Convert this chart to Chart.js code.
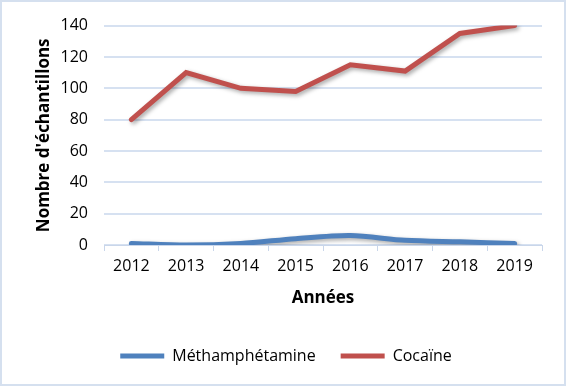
<!DOCTYPE html>
<html>
<head>
<meta charset="utf-8">
<script src="https://cdn.jsdelivr.net/npm/chart.js@4.4.0/dist/chart.umd.min.js"></script>
<style>
  html, body { margin: 0; padding: 0; background: #fff; }
  #wrap { width: 566px; height: 386px; position: relative; }
</style>
</head>
<body>
<div id="wrap"><canvas id="chart" width="566" height="386"></canvas></div>
<script>
const years = ["2012", "2013", "2014", "2015", "2016", "2017", "2018", "2019"];
const metha = [1, 0, 1, 4, 6, 3, 2, 1];
const cocaine = [80, 110, 100, 98, 115, 111, 135, 140];
const yTicks = [0, 20, 40, 60, 80, 100, 120, 140];

const font = "'Open Sans', 'Noto Sans', sans-serif";

// outer frame + soft shadow under the lines, like the Excel original
const framePlugin = {
    id: "frame",
    beforeDraw(chart) {
        const ctx = chart.ctx;
        ctx.save();
        ctx.fillStyle = "#fff";
        ctx.fillRect(0, 0, chart.width, chart.height);
        ctx.strokeStyle = "#d5e0ef";
        ctx.lineWidth = 2;
        ctx.strokeRect(1, 1, chart.width - 2, chart.height - 2);
        ctx.restore();
    },
    beforeDatasetDraw(chart) {
        const ctx = chart.ctx;
        ctx.save();
        ctx.shadowColor = "rgba(0,0,0,0.35)";
        ctx.shadowBlur = 4;
        ctx.shadowOffsetX = 2;
        ctx.shadowOffsetY = 2;
    },
    afterDatasetDraw(chart) {
        chart.ctx.restore();
    }
};

new Chart(document.getElementById("chart"), {
    type: "line",
    data: {
        labels: years,
        datasets: [{
            label: "Méthamphétamine",
            data: metha,
            fill: false,
            borderColor: "#4f81bd",
            backgroundColor: "#4f81bd",
            borderWidth: 5,
            pointRadius: 0,
            borderCapStyle: "round",
            tension: 0.3
        }, {
            label: "Cocaïne",
            data: cocaine,
            fill: false,
            borderColor: "#c0504d",
            backgroundColor: "#c0504d",
            borderWidth: 5,
            pointRadius: 0,
            borderCapStyle: "round",
            tension: 0
        }]
    },
    plugins: [framePlugin],
    options: {
        responsive: false,
        animation: false,
        layout: { padding: { left: 30, right: 24, top: 14, bottom: 12 } },
        plugins: {
            tooltip: { enabled: false },
            legend: {
                position: "bottom",
                labels: {
                    usePointStyle: true,
                    pointStyle: "line",
                    pointStyleWidth: 44,
                    boxHeight: 5,
                    padding: 25,
                    color: "#000",
                    font: { family: font, size: 16 }
                }
            }
        },
        scales: {
            x: {
                offset: true,
                grid: {
                    offset: true,
                    drawOnChartArea: false,
                    drawTicks: true,
                    tickLength: 6,
                    color: "#c9d6ea"
                },
                border: { display: true, color: "#c9d6ea" },
                ticks: { color: "#000", padding: 6, font: { family: font, size: 16 } },
                title: {
                    display: true,
                    text: "Années",
                    color: "#000",
                    padding: { top: 6, bottom: 15 },
                    font: { family: font, size: 17, weight: "bold" }
                },
                afterFit(scale) { scale.height = 78; }
            },
            y: {
                min: 0,
                max: 140,
                afterBuildTicks(scale) { scale.ticks = yTicks.map(v => ({ value: v })); },
                grid: { color: "#d6e1f1", lineWidth: 2, drawTicks: false },
                border: { display: false },
                ticks: { color: "#000", padding: 16, font: { family: font, size: 16 } },
                title: {
                    display: true,
                    text: "Nombre d'échantillons",
                    color: "#000",
                    padding: { bottom: 2 },
                    font: { family: font, size: 17, weight: "bold" }
                },
                afterFit(scale) { scale.width = 74; }
            }
        }
    }
});
</script>
</body>
</html>
